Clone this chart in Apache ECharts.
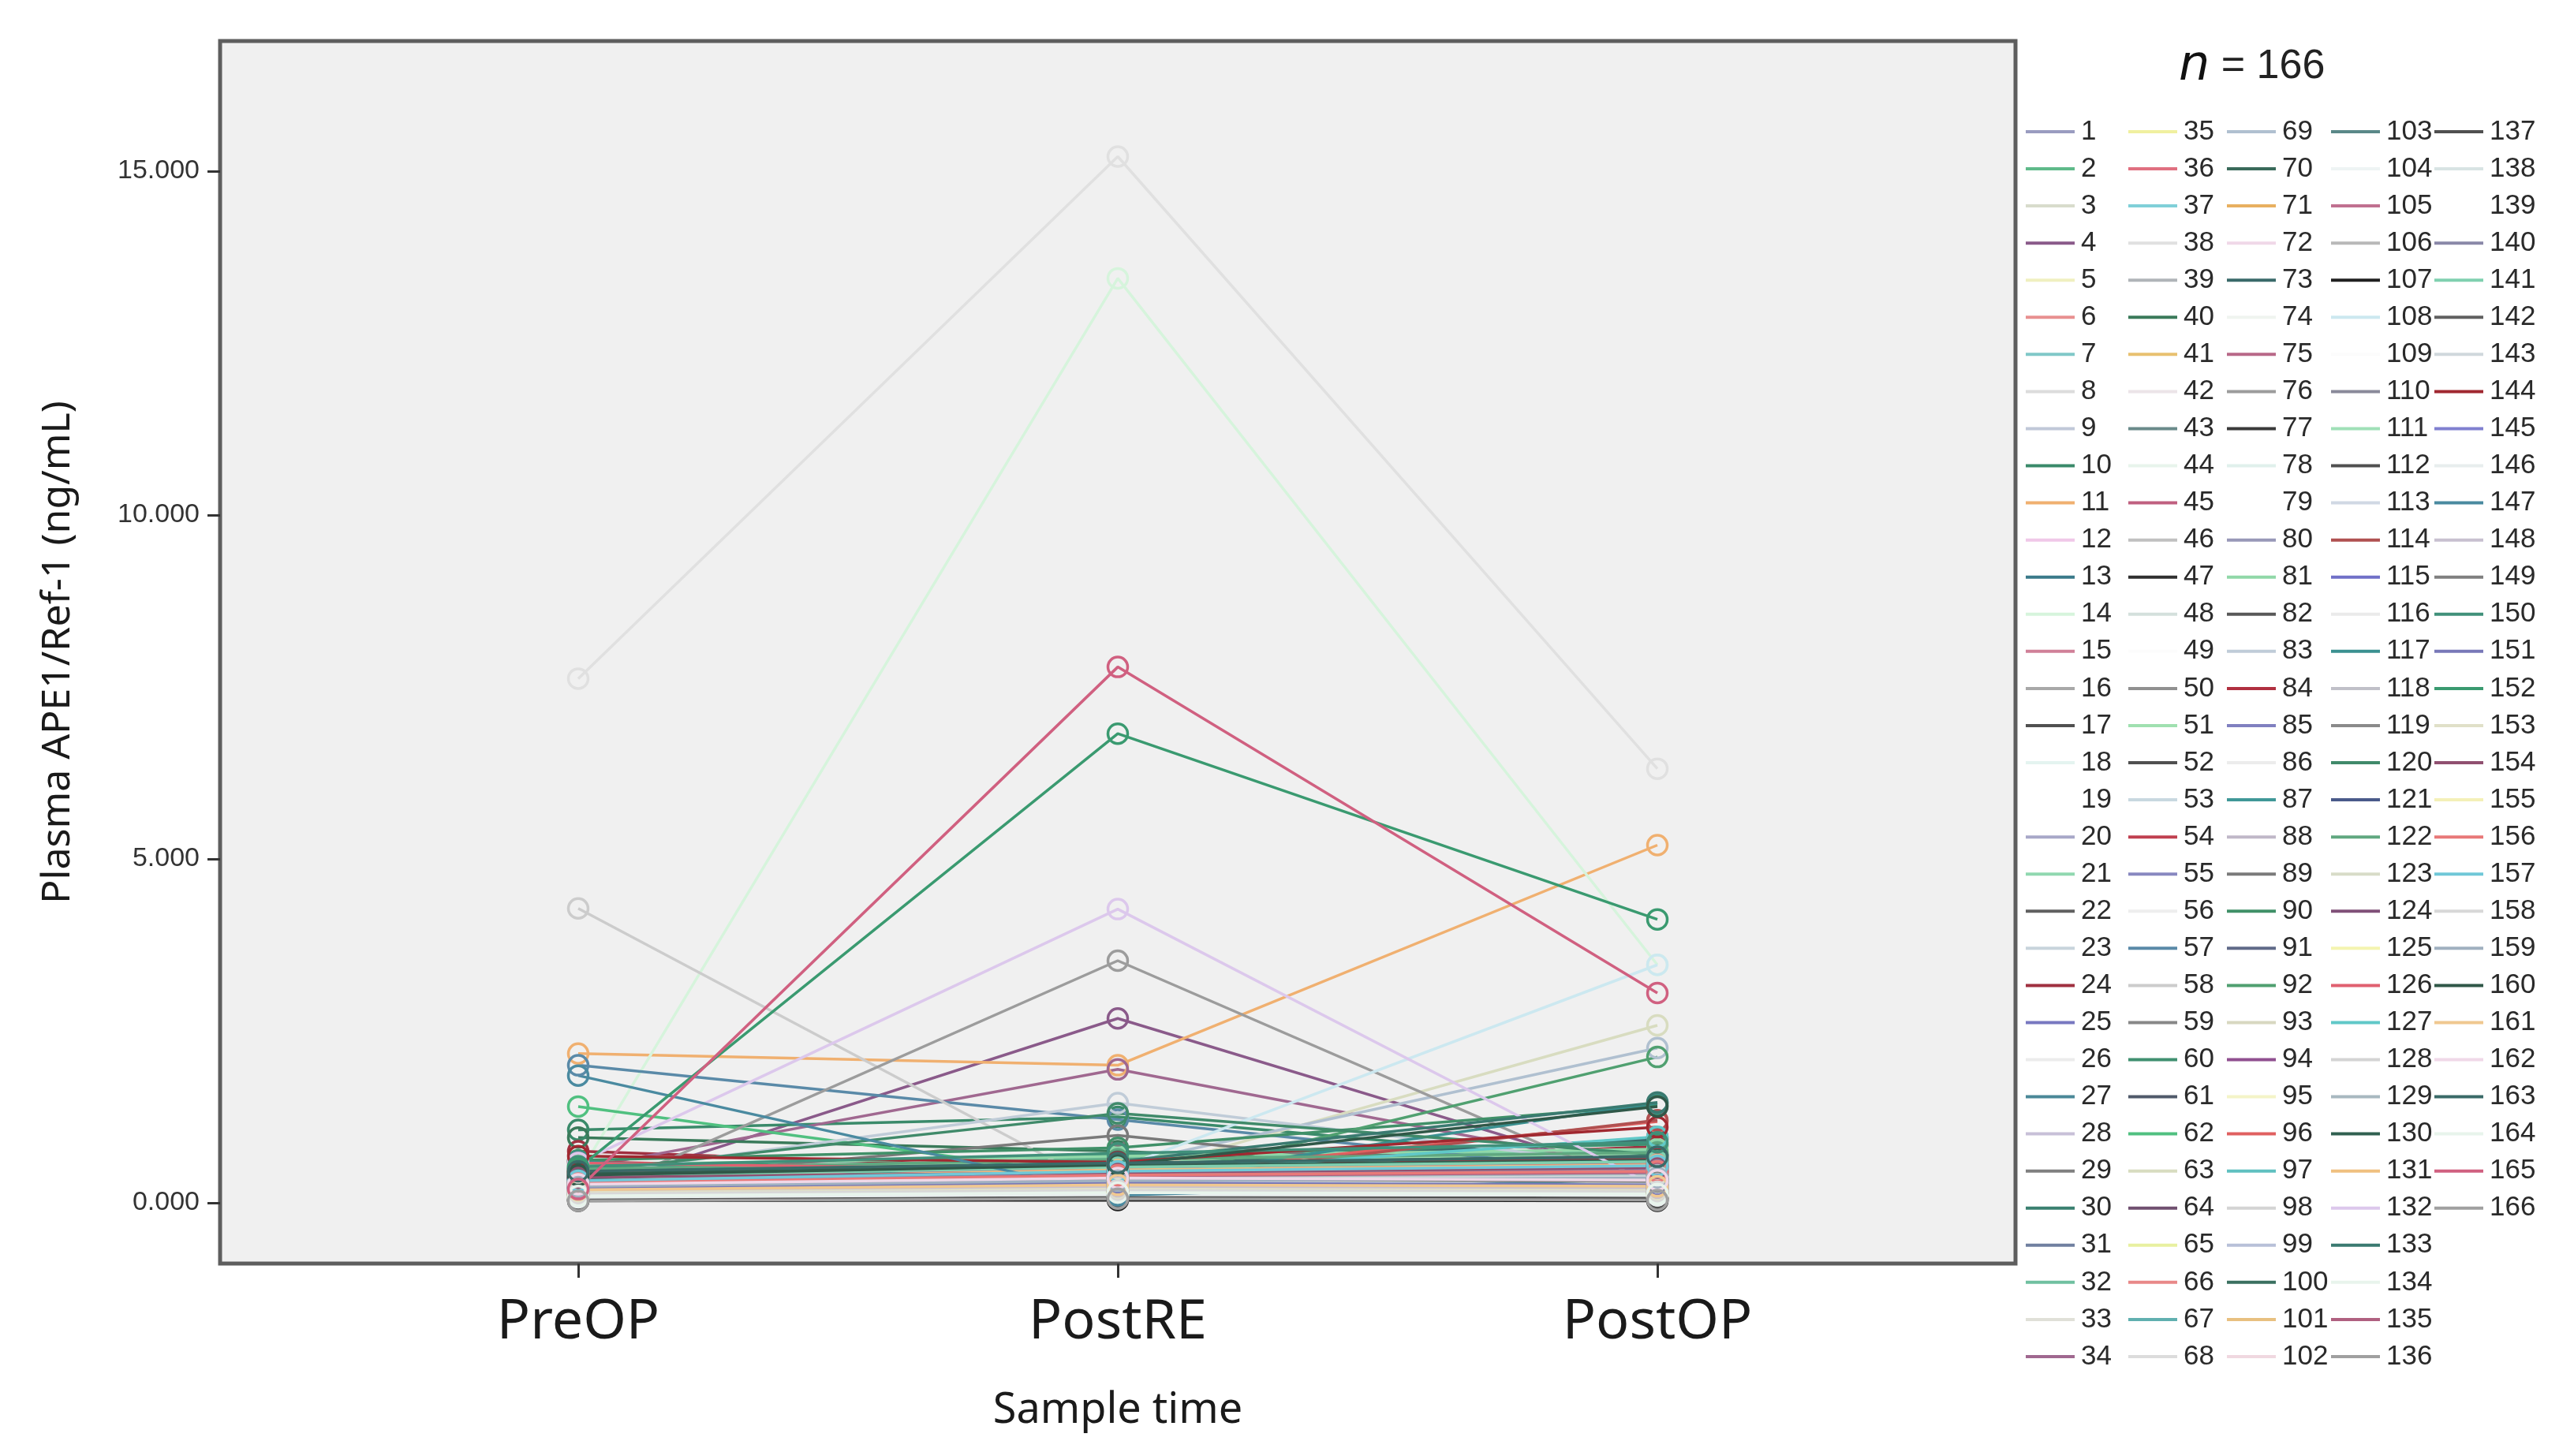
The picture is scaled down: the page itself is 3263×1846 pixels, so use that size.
<!DOCTYPE html>
<html><head><meta charset="utf-8">
<script src="https://cdn.jsdelivr.net/npm/echarts@6/dist/echarts.min.js"></script>
<style>html,body{margin:0;padding:0;background:#fff}#c{width:3263px;height:1846px}</style>
</head><body><div id="c"></div>
<script>
const categories = ['PreOP', 'PostRE', 'PostOP'];
const yTicks = [0, 5, 10, 15];

const preOP = [
  0.18, 0.32, 0.10, 0.15, 0.08, 0.42, 0.22, 0.12, 0.28, 1.06,
  2.17, 0.35, 0.30, 0.40, 0.25, 0.14, 0.20, 0.09, 0.30, 0.26,
  0.38, 0.12, 0.44, 0.75, 0.21, 0.06, 0.33, 0.17, 0.05, 0.24,
  0.29, 0.46, 0.13, 0.50, 0.11, 0.36, 0.27, 7.62, 0.19, 0.95,
  0.31, 0.16, 0.23, 0.07, 0.39, 0.34, 0.10, 0.20, 0.15, 0.04,
  0.48, 0.22, 0.18, 0.60, 0.27, 0.09, 2.00, 4.28, 0.13, 0.52,
  0.16, 1.40, 0.30, 0.37, 0.08, 0.41, 0.24, 0.14, 0.35, 0.20,
  0.26, 0.19, 0.43, 0.11, 0.32, 0.05, 0.17, 0.28, 0.22, 0.12,
  0.55, 0.21, 0.40, 0.47, 0.15, 0.10, 0.33, 0.25, 0.30, 0.62,
  0.14, 0.25, 0.18, 0.36, 0.09, 0.44, 0.29, 0.06, 0.23, 0.40,
  0.31, 0.13, 0.27, 0.08, 0.38, 0.20, 0.03, 0.20, 0.17, 0.34,
  0.26, 0.11, 0.19, 0.45, 0.30, 0.07, 0.60, 0.24, 0.15, 0.45,
  0.35, 0.49, 0.12, 0.22, 0.10, 0.58, 0.20, 0.16, 0.28, 0.42,
  0.33, 0.58, 0.35, 0.09, 0.27, 0.18, 0.05, 0.21, 0.14, 0.30,
  0.39, 0.12, 0.25, 0.68, 0.20, 0.08, 1.85, 0.17, 0.26, 0.53,
  0.22, 0.50, 0.15, 0.37, 0.11, 0.29, 0.32, 0.13, 0.24, 0.40,
  0.19, 0.27, 0.46, 0.10, 0.20, 0.03
];
const postRE = [
  0.30, 0.45, 0.15, 2.68, 0.12, 0.38, 0.55, 0.20, 0.25, 1.25,
  2.00, 0.62, 0.42, 13.44, 0.33, 0.18, 0.28, 0.14, 0.22, 0.40,
  0.50, 0.09, 0.35, 0.48, 0.27, 0.10, 0.58, 0.24, 0.07, 0.36,
  0.20, 0.65, 0.19, 1.94, 0.16, 0.44, 0.30, 15.21, 0.26, 0.75,
  0.40, 0.23, 0.34, 0.11, 0.52, 0.29, 0.06, 0.31, 0.20, 0.08,
  0.60, 0.35, 0.21, 0.43, 0.39, 0.13, 1.21, 0.12, 0.18, 0.70,
  0.25, 0.35, 0.38, 0.47, 0.10, 0.33, 0.41, 0.19, 0.55, 0.28,
  0.37, 0.26, 0.53, 0.15, 0.46, 3.52, 0.22, 0.34, 0.17, 0.21,
  0.68, 0.30, 1.45, 0.56, 0.24, 0.12, 0.45, 0.32, 0.98, 0.80,
  0.19, 0.24, 0.27, 0.49, 0.14, 0.38, 0.44, 0.05, 0.29, 0.57,
  0.43, 0.20, 0.35, 0.13, 0.51, 0.28, 0.04, 0.50, 0.23, 0.41,
  0.36, 0.16, 0.26, 0.30, 0.42, 0.11, 0.30, 0.33, 0.22, 1.30,
  0.45, 0.63, 0.18, 0.31, 0.15, 0.47, 0.40, 0.21, 0.37, 0.54,
  0.48, 4.27, 0.60, 0.14, 0.39, 0.25, 0.08, 0.30, 0.19, 0.41,
  0.52, 0.17, 0.34, 0.59, 0.27, 0.12, 0.11, 0.23, 0.35, 0.72,
  0.29, 6.82, 0.20, 0.44, 0.16, 0.40, 0.46, 0.18, 0.32, 0.55,
  0.26, 0.36, 0.58, 0.15, 7.79, 0.06
];
const postOP = [
  0.25, 0.50, 0.12, 0.30, 0.10, 0.44, 0.62, 0.18, 0.22, 0.55,
  5.20, 0.48, 0.70, 3.46, 0.28, 0.15, 0.35, 0.12, 0.20, 0.33,
  0.58, 0.07, 0.40, 0.82, 0.24, 0.09, 0.66, 0.21, 0.06, 0.45,
  0.18, 0.75, 0.16, 0.45, 0.14, 0.52, 0.38, 6.31, 0.23, 0.40,
  0.47, 0.20, 0.42, 0.10, 0.60, 0.26, 0.05, 0.36, 0.18, 0.08,
  0.72, 0.30, 0.25, 0.95, 0.34, 0.11, 0.40, 0.30, 0.16, 0.85,
  0.22, 0.60, 2.58, 0.54, 0.09, 0.39, 0.48, 0.17, 2.25, 0.32,
  0.43, 0.24, 0.92, 0.13, 0.50, 0.12, 0.20, 0.37, 0.15, 0.19,
  0.78, 0.27, 0.50, 0.64, 0.21, 0.10, 0.55, 0.29, 0.20, 1.42,
  0.17, 2.12, 0.31, 0.57, 0.12, 1.18, 0.52, 0.05, 0.26, 0.68,
  0.49, 0.18, 0.41, 0.11, 0.59, 0.25, 0.03, 3.46, 0.21, 0.46,
  0.40, 0.14, 0.30, 1.20, 0.48, 0.10, 1.45, 0.29, 0.20, 0.70,
  0.53, 0.73, 0.16, 0.35, 0.13, 0.56, 0.96, 0.19, 0.42, 0.62,
  0.55, 0.22, 1.46, 0.12, 0.44, 0.23, 0.07, 0.28, 0.17, 0.47,
  0.60, 0.15, 0.38, 1.10, 0.25, 0.11, 0.35, 0.21, 0.31, 0.88,
  0.26, 4.12, 0.18, 0.51, 0.14, 0.46, 0.54, 0.16, 0.36, 1.40,
  0.24, 0.33, 0.67, 0.13, 3.05, 0.04
];

const colors = [
  '#9a9cc0','#5fba8a','#d8dccc','#8a5a8a','#f0f0c0','#e89090','#80c8c8','#dcdcdc','#c0c8d8','#3a8a6a',
  '#f0b070','#f0c8e8','#3a7a8a','#d6f4dc','#d08098','#a8a8a8','#505050','#e4f4f0','#ffffff','#a8a8c8',
  '#90d8b0','#606060','#c8d4dc','#a03040','#7878c0','#ececec','#4a8898','#c8c0d8','#808080','#3a8070',
  '#7080a0','#70c0a0','#e0e0d8','#a06890','#f0f0a0','#e07080','#80d0d8','#e0e0e0','#b0b4b8','#3a7a5a',
  '#e8c070','#ece4e8','#6a8a8a','#e8f4ec','#c06080','#c0c0c0','#303030','#d4e0dc','#fcfcfc','#909090',
  '#a0e0b0','#505050','#c8d8e0','#c04050','#8888c0','#eeeeee','#5a8aa8','#cccccc','#888888','#409070',
  '#505a6a','#50c080','#d8dcc0','#705070','#e8f0a0','#e88888','#60b0b0','#dcdcdc','#b0c0d0','#3a6a5a',
  '#e8b060','#f0d8e8','#3a6a6a','#f0f4f0','#b86888','#9c9c9c','#3a3a3a','#e0f0ec','#ffffff','#9898b8',
  '#90d8a8','#585858','#c0ccd8','#b03040','#8080c0','#ececec','#409898','#c0b8c8','#7a7a7a','#409068',
  '#606a88','#50a070','#d8d8c0','#905090','#f4f4c8','#e06060','#60c0c0','#d4d4d4','#b8c0d8','#3a7060',
  '#e8c080','#f0d8e0','#5a8888','#eef4f4','#c07090','#b8b8b8','#202020','#cce8f0','#fcfcfc','#8a8a9a',
  '#a0e0b8','#505050','#d0d8e4','#b05050','#7070c8','#eaeaea','#3a9090','#c0c0c8','#8a8a8a','#408a6a',
  '#4a5a8a','#60a880','#d8dcc8','#805078','#f4f4b0','#e06070','#60c8c8','#d4d4d4','#a8b8c0','#306050',
  '#f0c080','#dcc8ec','#3a7a70','#e8f4ec','#b06080','#a0a0a0','#505050','#d8e4e4','#ffffff','#8a88a8',
  '#80d0b0','#606060','#d0d8dc','#a02830','#8080d0','#e8eeee','#4a8aa0','#c8c0d0','#808080','#40907a',
  '#7878b8','#3a9a70','#e0e0c8','#905070','#f4f0b8','#e87878','#70c8d8','#d8d8d8','#a0b0c0','#305848',
  '#f0c890','#f0d8e8','#3a6a68','#e8f4ec','#d06080','#a0a0a0'
];

const names = preOP.map((_, i) => String(i + 1));

const chart = echarts.init(document.getElementById('c'), null, { renderer: 'canvas' });

const sans = "'Liberation Sans', Arial, sans-serif";

const series = names.map((nm, i) => ({
  name: nm,
  type: 'line',
  data: [[0, preOP[i]], [1, postRE[i]], [2, postOP[i]]],
  symbol: 'circle',
  symbolSize: 25,
  itemStyle: { color: 'rgba(0,0,0,0)', borderColor: colors[i], borderWidth: 3.5 },
  lineStyle: { color: colors[i], width: 3.5 },
  emphasis: { disabled: true },
  silent: true,
  animation: false
}));

const colStarts = [0, 34, 68, 102, 136];
const colLeft = [2568, 2698, 2823, 2955, 3086];
const legends = colStarts.map((s, k) => ({
  orient: 'vertical',
  left: colLeft[k],
  top: 147,
  padding: 0,
  itemGap: 7.06,
  itemWidth: 62,
  itemHeight: 4,
  icon: 'rect',
  selectedMode: false,
  itemStyle: { borderWidth: 0 },
  textStyle: { fontFamily: sans, fontSize: 35, lineHeight: 40, color: '#2a2a2a', padding: [0, 0, 0, 3] },
  data: names.slice(s, s + 34).map((nm, j) => ({ name: nm, itemStyle: { color: colors[s + j], borderWidth: 0 } }))
}));

chart.setOption({
  animation: false,
  backgroundColor: '#ffffff',
  title: {
    text: '{i|n}{t| = ' + names.length + '}',
    left: 2762,
    top: 54,
    padding: 0,
    textStyle: {
      fontWeight: 'normal',
      rich: {
        i: { fontFamily: 'DejaVu Sans', fontStyle: 'italic', fontWeight: 'normal', fontSize: 62, color: '#111' },
        t: { fontFamily: sans, fontWeight: 'normal', fontSize: 52, color: '#222' }
      }
    }
  },
  legend: legends,
  grid: {
    left: 279, right: 708, top: 52, bottom: 244,
    show: true, backgroundColor: '#f0f0f0', borderColor: '#5e5e5e', borderWidth: 5
  },
  xAxis: {
    type: 'value',
    min: -0.6637,
    max: 2.6637,
    axisLine: { show: false, onZero: false },
    splitLine: { show: false },
    axisTick: { show: true, customValues: [0, 1, 2], length: 18, lineStyle: { color: '#333', width: 3 } },
    axisLabel: {
      customValues: [0, 1, 2],
      formatter: v => categories[Math.round(v)],
      margin: 40, fontSize: 70, fontFamily: 'Noto Sans', color: '#1a1a1a'
    },
    name: 'Sample time',
    nameLocation: 'middle',
    nameGap: 160,
    nameTextStyle: { fontSize: 54, fontFamily: 'Noto Sans', color: '#1a1a1a' }
  },
  yAxis: {
    type: 'value',
    min: -0.883,
    max: 16.89,
    axisLine: { show: false, onZero: false },
    splitLine: { show: false },
    axisTick: { show: true, customValues: yTicks, length: 16, lineStyle: { color: '#333', width: 3 } },
    axisLabel: {
      customValues: yTicks,
      formatter: v => v.toFixed(3),
      margin: 26, fontSize: 34, fontFamily: sans, color: '#333'
    },
    name: 'Plasma APE1/Ref-1 (ng/mL)',
    nameLocation: 'middle',
    nameGap: 180,
    nameTextStyle: { fontSize: 50, fontFamily: 'Noto Sans', color: '#1a1a1a' }
  },
  series: series
});
</script>
</body></html>
